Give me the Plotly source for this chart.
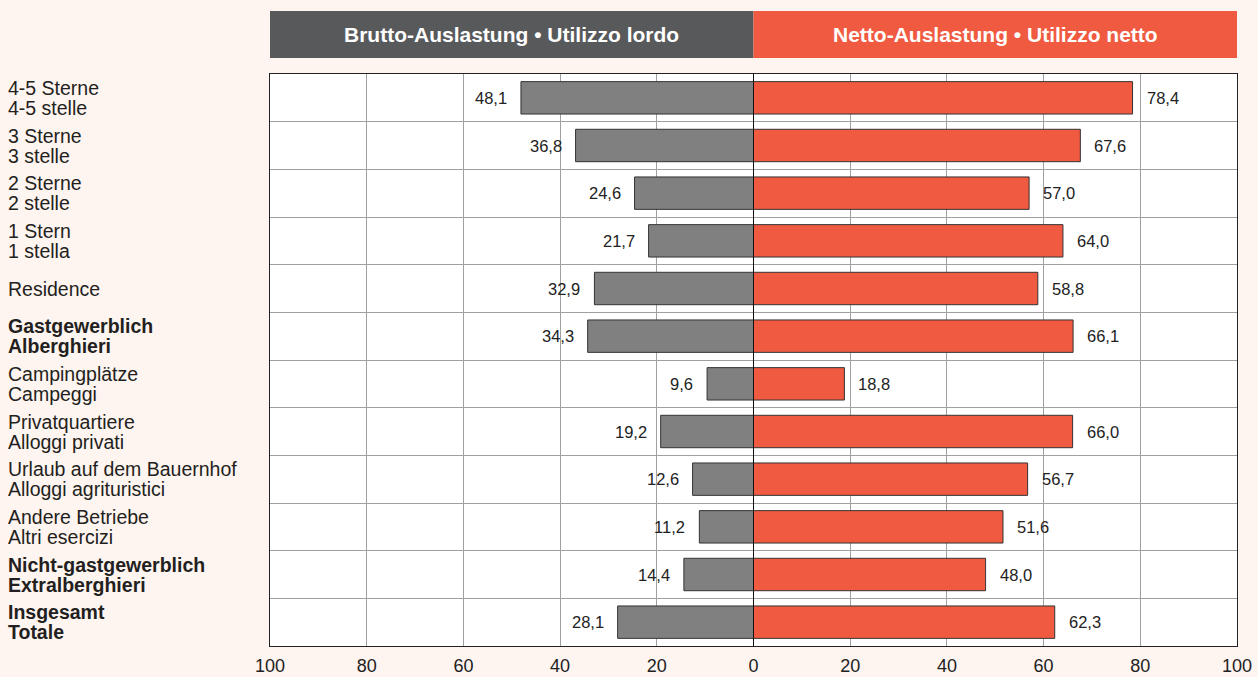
import plotly.graph_objects as go

categories = [
    ("4-5 Sterne", "4-5 stelle", False),
    ("3 Sterne", "3 stelle", False),
    ("2 Sterne", "2 stelle", False),
    ("1 Stern", "1 stella", False),
    ("Residence", "", False),
    ("Gastgewerblich", "Alberghieri", True),
    ("Campingplätze", "Campeggi", False),
    ("Privatquartiere", "Alloggi privati", False),
    ("Urlaub auf dem Bauernhof", "Alloggi agrituristici", False),
    ("Andere Betriebe", "Altri esercizi", False),
    ("Nicht-gastgewerblich", "Extralberghieri", True),
    ("Insgesamt", "Totale", True),
]
brutto = [48.1, 36.8, 24.6, 21.7, 32.9, 34.3, 9.6, 19.2, 12.6, 11.2, 14.4, 28.1]
netto = [78.4, 67.6, 57.0, 64.0, 58.8, 66.1, 18.8, 66.0, 56.7, 51.6, 48.0, 62.3]
tick_vals = [-100, -80, -60, -40, -20, 0, 20, 40, 60, 80, 100]
tick_text = ["100", "80", "60", "40", "20", "0", "20", "40", "60", "80", "100"]

GREY = "#808080"
RED = "#f05a40"
DARK = "#58595b"
BG = "#fef4f0"

def fmt(v):
    return f"{v:.1f}".replace(".", ",")

n = len(categories)
ys = list(range(n))

fig = go.Figure()
fig.add_trace(go.Bar(
    y=ys, x=[-v for v in brutto], orientation="h", width=0.68,
    marker=dict(color=GREY, line=dict(color="#333333", width=1)),
    showlegend=False, hoverinfo="skip",
))
fig.add_trace(go.Bar(
    y=ys, x=netto, orientation="h", width=0.68,
    marker=dict(color=RED, line=dict(color="#333333", width=1)),
    showlegend=False, hoverinfo="skip",
))

annotations = []
for i, v in enumerate(brutto):
    annotations.append(dict(x=-v, y=i, xref="x", yref="y", text=fmt(v),
                            xanchor="right", showarrow=False, xshift=-12,
                            font=dict(size=16.5, color="#222222")))
for i, v in enumerate(netto):
    annotations.append(dict(x=v, y=i, xref="x", yref="y", text=fmt(v),
                            xanchor="left", showarrow=False, xshift=12,
                            font=dict(size=16.5, color="#222222")))

# category labels, left-aligned
plot_left, plot_right = 270, 1237
pw = plot_right - plot_left
lx = (6 - plot_left) / pw
for i, (de, it, bold) in enumerate(categories):
    lines = [de] if not it else [de, it]
    shifts = [0] if not it else [10, -10]
    for line, sh in zip(lines, shifts):
        txt = f"<b>{line}</b>" if bold else line
        annotations.append(dict(x=lx, y=i, xref="paper", yref="y", yshift=sh,
                                text=txt, xanchor="left", yanchor="middle",
                                align="left", showarrow=False,
                                font=dict(size=19.5, color="#231f20")))

# header boxes
plot_top, plot_bottom = 74, 646
ph = plot_bottom - plot_top
y0 = (plot_bottom - 58) / ph
y1 = (plot_bottom - 11) / ph
shapes = [
    dict(type="rect", xref="x", yref="paper", x0=-100, x1=0, y0=y0, y1=y1,
         fillcolor=DARK, line=dict(width=0), layer="above"),
    dict(type="rect", xref="x", yref="paper", x0=0, x1=100, y0=y0, y1=y1,
         fillcolor=RED, line=dict(width=0), layer="above"),
    dict(type="line", xref="x", yref="paper", x0=0, x1=0, y0=0, y1=1,
         line=dict(color="#111111", width=1)),
]
annotations.append(dict(x=-50, y=(y0 + y1) / 2, xref="x", yref="paper",
                        yanchor="middle",
                        text="<b>Brutto-Auslastung • Utilizzo lordo</b>",
                        showarrow=False, font=dict(size=21, color="white")))
annotations.append(dict(x=50, y=(y0 + y1) / 2, xref="x", yref="paper",
                        yanchor="middle",
                        text="<b>Netto-Auslastung • Utilizzo netto</b>",
                        showarrow=False, font=dict(size=21, color="white")))

fig.update_layout(
    width=1258, height=677,
    margin=dict(l=plot_left, r=1258 - plot_right, t=plot_top, b=677 - plot_bottom,
                autoexpand=False),
    paper_bgcolor=BG, plot_bgcolor="white",
    barmode="overlay",
    font=dict(family="Liberation Sans, Arial, sans-serif", color="#222222"),
    xaxis=dict(range=[-100, 100], tickvals=tick_vals, ticktext=tick_text,
               showgrid=True, gridcolor="#a0a0a0", gridwidth=1, zeroline=False,
               showline=True, linecolor="#222222", linewidth=1, mirror=True,
               ticks="", ticklabelstandoff=3, automargin=False,
               tickfont=dict(size=18, color="#222222"), fixedrange=True),
    yaxis=dict(range=[n - 0.5, -0.5], tickvals=[i + 0.5 for i in range(n - 1)],
               showticklabels=False, showgrid=True, gridcolor="#a0a0a0", gridwidth=1,
               zeroline=False, showline=True, linecolor="#222222", linewidth=1,
               mirror=True, ticks="", automargin=False, fixedrange=True),
    shapes=shapes, annotations=annotations,
)

fig.write_html("out.html", config={"displayModeBar": False},
               post_script="document.body.style.margin='0';document.body.style.overflow='hidden';")
